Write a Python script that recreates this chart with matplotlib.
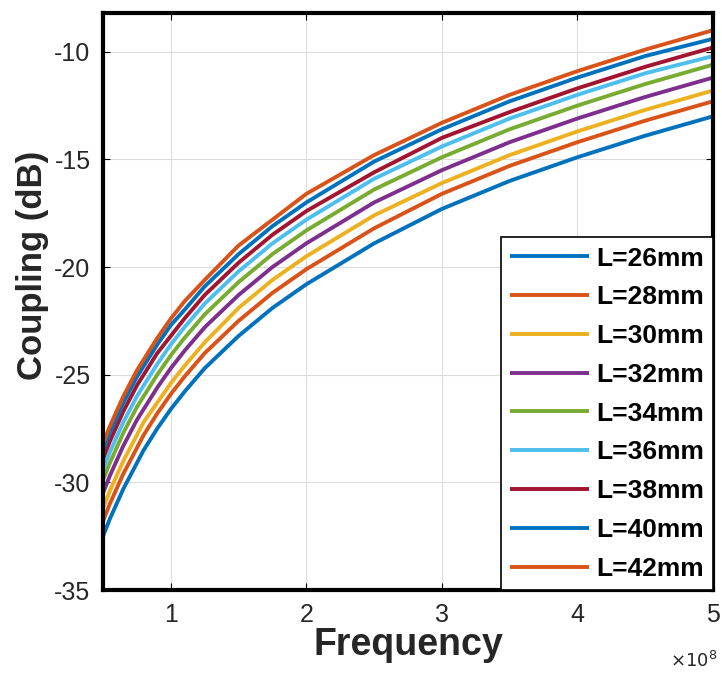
import matplotlib
matplotlib.use("Agg")
import matplotlib.pyplot as plt

# Frequency samples (x 1e8 Hz)
freq = [0.5, 0.55, 0.6, 0.65, 0.7, 0.75, 0.8, 0.9, 1.0, 1.1, 1.25, 1.5, 1.75,
        2.0, 2.5, 3.0, 3.5, 4.0, 4.5, 5.0]

# Coupling (dB) for each line length
c26 = [-32.5, -31.7, -31.0, -30.3, -29.7, -29.1, -28.5, -27.5, -26.6, -25.8, -24.7,
       -23.2, -21.9, -20.8, -18.9, -17.3, -16.0, -14.9, -13.9, -13.0]
c28 = [-31.8, -31.0, -30.3, -29.6, -29.0, -28.4, -27.8, -26.8, -25.9, -25.1, -24.0,
       -22.5, -21.2, -20.1, -18.2, -16.6, -15.3, -14.2, -13.2, -12.3]
c30 = [-31.2, -30.4, -29.7, -29.0, -28.4, -27.8, -27.2, -26.3, -25.4, -24.6, -23.5,
       -21.9, -20.6, -19.5, -17.6, -16.1, -14.8, -13.7, -12.7, -11.8]
c32 = [-30.5, -29.7, -29.0, -28.3, -27.7, -27.1, -26.6, -25.6, -24.7, -23.9, -22.8,
       -21.3, -20.0, -18.9, -17.0, -15.5, -14.2, -13.1, -12.1, -11.2]
c34 = [-29.9, -29.1, -28.4, -27.7, -27.1, -26.5, -26.0, -25.0, -24.1, -23.3, -22.2,
       -20.7, -19.4, -18.3, -16.4, -14.9, -13.6, -12.5, -11.5, -10.6]
c36 = [-29.4, -28.6, -27.9, -27.2, -26.6, -26.0, -25.5, -24.5, -23.6, -22.8, -21.7,
       -20.2, -18.9, -17.8, -15.9, -14.4, -13.1, -12.0, -11.0, -10.2]
c38 = [-28.9, -28.1, -27.4, -26.7, -26.1, -25.5, -25.0, -24.0, -23.2, -22.4, -21.3,
       -19.8, -18.5, -17.4, -15.6, -14.0, -12.8, -11.7, -10.7, -9.8]
c40 = [-28.5, -27.7, -27.0, -26.3, -25.7, -25.1, -24.6, -23.6, -22.7, -22.0, -20.9,
       -19.4, -18.1, -17.0, -15.1, -13.6, -12.3, -11.2, -10.2, -9.4]
c42 = [-28.2, -27.4, -26.7, -26.0, -25.4, -24.8, -24.3, -23.3, -22.4, -21.6, -20.6,
       -19.0, -17.8, -16.6, -14.8, -13.3, -12.0, -10.9, -9.9, -9.0]

series = [c26, c28, c30, c32, c34, c36, c38, c40, c42]
labels = ["L=26mm", "L=28mm", "L=30mm", "L=32mm", "L=34mm",
          "L=36mm", "L=38mm", "L=40mm", "L=42mm"]

# MATLAB default colour order
colors = ["#0072BD", "#D95319", "#EDB120", "#7E2F8E", "#77AC30",
          "#4DBEEE", "#A2142F", "#0072BD", "#D95319"]

plt.rcParams["font.family"] = ["Liberation Sans", "DejaVu Sans"]
plt.rcParams["axes.unicode_minus"] = False

fig = plt.figure(figsize=(7.22, 6.77), dpi=100)
ax = fig.add_axes([0.1427, 0.1285, 0.8448, 0.8523])

for y, lab, col in zip(series, labels, colors):
    ax.plot(freq, y, color=col, linewidth=2.8, label=lab,
            solid_joinstyle="round", solid_capstyle="butt")

ax.set_xlim(0.5, 5)
ax.set_ylim(-35, -8.2)
ax.set_xticks([1, 2, 3, 4, 5])
ax.set_yticks([-35, -30, -25, -20, -15, -10])
ax.grid(True, color="#dcdcdc", linewidth=0.8)
ax.set_axisbelow(True)

ax.tick_params(direction="in", length=5, width=0.8, labelsize=18,
               labelcolor="#262626", top=True, right=True, pad=9)
for side in ax.spines.values():
    side.set_linewidth(3)
    side.set_color("black")

ax.set_xlabel("Frequency", fontsize=27, fontweight="bold", color="#262626", labelpad=0)
ax.set_ylabel("Coupling (dB)", fontsize=25, fontweight="bold", color="#262626", labelpad=4)
ax.yaxis.label.set_y(0.563)
ax.text(1.008, -0.105, r"$\times10^8$", transform=ax.transAxes, ha="right", va="top",
        fontsize=13, color="#262626")

leg = ax.legend(loc="lower right", prop={"weight": "bold", "size": 19},
                frameon=True, fancybox=False, borderaxespad=0.0,
                handlelength=3.0, handletextpad=0.25, labelspacing=0.56,
                borderpad=0.35)
leg.get_frame().set_edgecolor("black")
leg.get_frame().set_linewidth(1.2)
leg.get_frame().set_alpha(1.0)

fig.savefig("out.png", dpi=100)
